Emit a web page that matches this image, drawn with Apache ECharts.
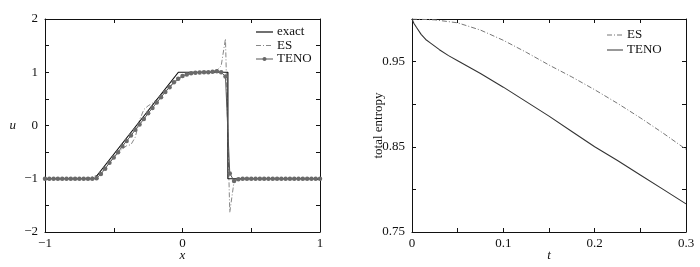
<!DOCTYPE html>
<html>
<head>
<meta charset="utf-8">
<script src="https://cdn.jsdelivr.net/npm/echarts@6/dist/echarts.min.js"></script>
<style>
html,body{margin:0;padding:0;background:#fff;}
#c{width:700px;height:267px;}
</style>
</head>
<body>
<div id="c"></div>
<script>
// ---- Left panel data ----
var exactX = [-1, -0.64, -0.03, 0.33, 0.33, 1];
var exactU = [-1, -1, 1, 1, -1, -1];
var gridStep = 2 / 64;
var tenoU = [
  -1,-1,-1,-1,-1,-1,-1,-1,-1,-1,-1,-1,
  -0.99,-0.91,-0.81,-0.70,-0.60,-0.50,-0.39,-0.29,-0.19,-0.08,
  0.02,0.12,0.23,0.33,0.43,0.53,0.63,0.72,0.81,0.88,
  0.93,0.96,0.98,0.99,0.995,1.0,1.0,1.01,1.02,1.0,
  0.92,-0.90,-1.04,-1.01,
  -1,-1,-1,-1,-1,-1,-1,-1,-1,-1,-1,-1,-1,-1,-1,-1,-1,-1,-1
];
var esU = [
  -1,-1,-1,-1,-1,-1,-1,-1,-1,-1,-0.99,-0.96,
  -0.94,-0.89,-0.80,-0.70,-0.60,-0.52,-0.44,-0.38,-0.36,-0.22,
  0.10,0.30,0.37,0.42,0.49,0.57,0.65,0.73,0.80,0.86,
  0.91,0.95,0.97,0.99,1.0,1.0,1.01,1.02,1.04,1.12,
  1.63,-1.63,-1.05,-0.98,
  -1,-1,-1,-1,-1,-1,-1,-1,-1,-1,-1,-1,-1,-1,-1,-1,-1,-1,-1
];
// ---- Right panel data ----
var esT = [0, 0.025, 0.05, 0.075, 0.1, 0.125, 0.15, 0.175, 0.2, 0.225, 0.25, 0.275, 0.3];
var esS = [1.0, 0.999, 0.9955, 0.987, 0.975, 0.961, 0.946, 0.932, 0.917, 0.901, 0.884, 0.866, 0.847];
var tenoT = [0, 0.002, 0.005, 0.01, 0.015, 0.02, 0.03, 0.04, 0.05, 0.075, 0.1, 0.125, 0.15, 0.175, 0.2, 0.225, 0.25, 0.275, 0.3];
var tenoS = [1.0, 0.995, 0.99, 0.982, 0.976, 0.972, 0.964, 0.957, 0.951, 0.936, 0.920, 0.903, 0.886, 0.868, 0.850, 0.834, 0.817, 0.800, 0.783];
// ---- Tick labels / legend names ----
var leftXLabels = [-1, 0, 1];
var leftYLabels = [-2, -1, 0, 1, 2];
var rightXLabels = ['0', '0.1', '0.2', '0.3'];
var rightYLabels = ['0.75', '0.85', '0.95'];
var leftLegend = ['exact', 'ES', 'TENO'];
var rightLegend = ['ES', 'TENO'];

function pairs(xs, ys) { return xs.map(function (x, i) { return [x, ys[i]]; }); }
function gridPairs(ys) { return ys.map(function (y, i) { return [-1 + i * gridStep, y]; }); }
function minus(s) { return String(s).replace('-', '\u2212'); }

var FONT = "'Liberation Serif', 'Times New Roman', Times, serif";
var txt = { fontFamily: FONT, fontSize: 13, color: '#111' };
var line = { show: true, onZero: false, lineStyle: { color: '#111', width: 1 } };
var tick = { show: true, inside: true, length: 4, lineStyle: { color: '#111', width: 1 } };
var DASHDOT = [5, 2, 1, 2];

function lxfmt(v) { var r = Math.round(v * 100) / 100; return leftXLabels.indexOf(r) >= 0 ? minus(r) : ''; }
function lyfmt(v) { var r = Math.round(v * 100) / 100; return leftYLabels.indexOf(r) >= 0 ? minus(r) : ''; }
function rxfmt(v) { var s = (Math.round(v * 100) / 100).toString(); return rightXLabels.indexOf(s) >= 0 ? s : ''; }
function ryfmt(v) { var s = (Math.round(v * 100) / 100).toFixed(2); return rightYLabels.indexOf(s) >= 0 ? s : ''; }

function mainX(grid, min, max, interval, fmt, name) {
  return { type: 'value', gridIndex: grid, min: min, max: max, interval: interval, position: 'bottom',
    axisLine: line, axisTick: tick, splitLine: { show: false },
    axisLabel: Object.assign({ formatter: fmt, margin: 5, showMinLabel: true, showMaxLabel: true }, txt),
    name: name, nameLocation: 'middle', nameGap: 17, nameMoveOverlap: false,
    nameTextStyle: { fontFamily: FONT, fontSize: 13, fontStyle: 'italic', color: '#111' } };
}
function mirrorX(grid, min, max, interval) {
  return { type: 'value', gridIndex: grid, min: min, max: max, interval: interval, position: 'top',
    axisLine: line, axisTick: tick, splitLine: { show: false }, axisLabel: { show: false } };
}
function mainY(grid, min, max, interval, fmt, name, nameGap, rot, italic) {
  return { type: 'value', gridIndex: grid, min: min, max: max, interval: interval, position: 'left',
    axisLine: line, axisTick: tick, splitLine: { show: false },
    axisLabel: Object.assign({ formatter: fmt, margin: 7, showMinLabel: true, showMaxLabel: true }, txt),
    name: name, nameLocation: 'middle', nameGap: nameGap, nameRotate: rot, nameMoveOverlap: false,
    nameTextStyle: { fontFamily: FONT, fontSize: 13, fontStyle: italic ? 'italic' : 'normal', color: '#111' } };
}
function mirrorY(grid, min, max, interval) {
  return { type: 'value', gridIndex: grid, min: min, max: max, interval: interval, position: 'right',
    axisLine: line, axisTick: tick, splitLine: { show: false }, axisLabel: { show: false } };
}

// Legend drawn as graphic elements (line samples + text)
function legendItem(x, y, w, name, style, marker) {
  var els = [
    { type: 'line', shape: { x1: x, y1: y, x2: x + w, y2: y }, style: style, silent: true },
    { type: 'text', x: x + w + 4, y: y, style: { text: name, font: '13px ' + FONT, fill: '#111', textVerticalAlign: 'middle', verticalAlign: 'middle' }, silent: true }
  ];
  if (marker) els.push({ type: 'circle', shape: { cx: x + w / 2, cy: y, r: 2 }, style: { fill: '#666' }, silent: true });
  return els;
}
var graphics = []
  .concat(legendItem(256, 32, 17, leftLegend[0], { stroke: '#111', lineWidth: 1.2 }))
  .concat(legendItem(256, 45.5, 17, leftLegend[1], { stroke: '#888', lineWidth: 1, lineDash: DASHDOT }))
  .concat(legendItem(256, 59, 17, leftLegend[2], { stroke: '#555', lineWidth: 1 }, true))
  .concat(legendItem(607, 35, 16, rightLegend[0], { stroke: '#777', lineWidth: 1, lineDash: DASHDOT }))
  .concat(legendItem(607, 50, 16, rightLegend[1], { stroke: '#333', lineWidth: 1 }));

var chart = echarts.init(document.getElementById('c'), null, { renderer: 'canvas' });
chart.setOption({
  animation: false,
  backgroundColor: '#fff',
  grid: [
    { left: 45, top: 19, width: 275, height: 213 },
    { left: 412, top: 19, width: 274, height: 213 }
  ],
  xAxis: [
    mainX(0, -1, 1, 0.5, lxfmt, 'x'),
    mirrorX(0, -1, 1, 0.5),
    mainX(1, 0, 0.3, 0.05, rxfmt, 't'),
    mirrorX(1, 0, 0.3, 0.05)
  ],
  yAxis: [
    mainY(0, -2, 2, 0.5, lyfmt, 'u', 29, 0, true),
    mirrorY(0, -2, 2, 0.5),
    mainY(1, 0.75, 1.0, 0.05, ryfmt, 'total entropy', 27, 90, false),
    mirrorY(1, 0.75, 1.0, 0.05)
  ],
  graphic: graphics,
  series: [
    { name: 'exact', type: 'line', xAxisIndex: 0, yAxisIndex: 0, data: pairs(exactX, exactU),
      symbol: 'none', lineStyle: { color: '#111', width: 1.2 }, itemStyle: { color: '#111' }, z: 3 },
    { name: 'ES', type: 'line', xAxisIndex: 0, yAxisIndex: 0, data: gridPairs(esU),
      symbol: 'none', lineStyle: { color: '#888', width: 1, type: DASHDOT }, itemStyle: { color: '#888' }, z: 2 },
    { name: 'TENO', type: 'line', xAxisIndex: 0, yAxisIndex: 0, data: gridPairs(tenoU),
      symbol: 'circle', symbolSize: 4.5, showSymbol: true, showAllSymbol: true,
      lineStyle: { color: '#555', width: 1 }, itemStyle: { color: '#6a6a6a', borderWidth: 0 }, z: 4 },
    { name: 'ES2', type: 'line', xAxisIndex: 2, yAxisIndex: 2, data: pairs(esT, esS),
      symbol: 'none', lineStyle: { color: '#777', width: 1, type: DASHDOT }, itemStyle: { color: '#777' } },
    { name: 'TENO2', type: 'line', xAxisIndex: 2, yAxisIndex: 2, data: pairs(tenoT, tenoS),
      symbol: 'none', lineStyle: { color: '#333', width: 1.1 }, itemStyle: { color: '#333' } }
  ]
});
</script>
</body>
</html>
